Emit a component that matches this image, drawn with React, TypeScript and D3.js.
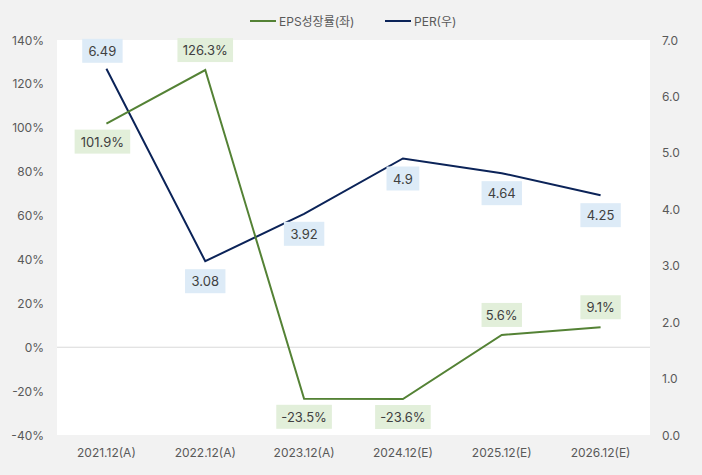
import React from "react";
import * as d3 from "d3";

const categories = ["2021.12(A)", "2022.12(A)", "2023.12(A)", "2024.12(E)", "2025.12(E)", "2026.12(E)"];
const epsGrowth = [101.9, 126.3, -23.5, -23.6, 5.6, 9.1];
const per = [6.49, 3.08, 3.92, 4.9, 4.64, 4.25];
const epsLabelPos = ["below", "above", "below", "below", "above", "above"];
const perLabelPos = ["above", "below", "below", "below", "below", "below"];
const leftTicks = [-40, -20, 0, 20, 40, 60, 80, 100, 120, 140];
const rightTicks = [0, 1, 2, 3, 4, 5, 6, 7];

const W = 702, H = 475;
const M = { left: 57, right: 52, top: 40, bottom: 40 };
const FONT = "Inter, 'Noto Sans CJK KR', sans-serif";
const GREEN = "#548235";
const NAVY = "#0b2358";

function Label({ x, y, text, bg }: { x: number; y: number; text: string; bg: string }) {
  const w = text.length * 7.6 + 10;
  return (
    <g>
      <rect x={x - w / 2} y={y - 12} width={w} height={24} fill={bg} />
      <text x={x} y={y} textAnchor="middle" dominantBaseline="central" fontSize={13} fill="#404040" fontFamily={FONT}>
        {text}
      </text>
    </g>
  );
}

export default function App() {
  const x = d3.scaleBand().domain(categories).range([M.left, W - M.right]).padding(0);
  const yL = d3.scaleLinear().domain([-40, 140]).range([H - M.bottom, M.top]);
  const yR = d3.scaleLinear().domain([0, 7]).range([H - M.bottom, M.top]);
  const cx = (i: number) => (x(categories[i]) as number) + x.bandwidth() / 2;

  const epsLine = d3.line<number>().x((_, i) => cx(i)).y((d) => yL(d))(epsGrowth) as string;
  const perLine = d3.line<number>().x((_, i) => cx(i)).y((d) => yR(d))(per) as string;

  return (
    <svg width={W} height={H} style={{ position: "absolute", left: 0, top: 0, fontFamily: FONT }}>
      <rect x={0} y={0} width={W} height={H} fill="#f2f2f2" />
      <rect x={M.left} y={M.top} width={W - M.left - M.right} height={H - M.top - M.bottom} fill="#ffffff" />
      <line x1={M.left} x2={W - M.right} y1={yL(0)} y2={yL(0)} stroke="#d9d9d9" strokeWidth={1} />

      {leftTicks.map((t) => (
        <text key={"l" + t} x={44} y={yL(t)} textAnchor="end" dominantBaseline="central" fontSize={12} fill="#595959">
          {t}%
        </text>
      ))}
      {rightTicks.map((t) => (
        <text key={"r" + t} x={662} y={yR(t)} textAnchor="start" dominantBaseline="central" fontSize={12} fill="#595959">
          {t.toFixed(1)}
        </text>
      ))}
      {categories.map((c, i) => (
        <text key={c} x={cx(i)} y={452} textAnchor="middle" dominantBaseline="central" fontSize={12} fill="#595959">
          {c}
        </text>
      ))}

      <path d={perLine} fill="none" stroke={NAVY} strokeWidth={2} />
      <path d={epsLine} fill="none" stroke={GREEN} strokeWidth={2} />

      {epsGrowth.map((v, i) => (
        <Label key={"el" + i} x={cx(i) - (i === 0 ? 4 : 0)} y={yL(v) + (epsLabelPos[i] === "above" ? -20 : 18)} text={v.toFixed(1) + "%"} bg="#e2efda" />
      ))}
      {per.map((v, i) => (
        <Label key={"pl" + i} x={cx(i) - (i === 0 ? 4 : 0)} y={yR(v) + (perLabelPos[i] === "above" ? -18 : 20)} text={String(v)} bg="#ddebf7" />
      ))}

      <line x1={250} x2={276} y1={21} y2={21} stroke={GREEN} strokeWidth={2} />
      <text x={279} y={21} dominantBaseline="central" fontSize={12} fill="#595959">EPS성장률(좌)</text>
      <line x1={385} x2={411} y1={21} y2={21} stroke={NAVY} strokeWidth={2} />
      <text x={414} y={21} dominantBaseline="central" fontSize={12} fill="#595959">PER(우)</text>
    </svg>
  );
}
